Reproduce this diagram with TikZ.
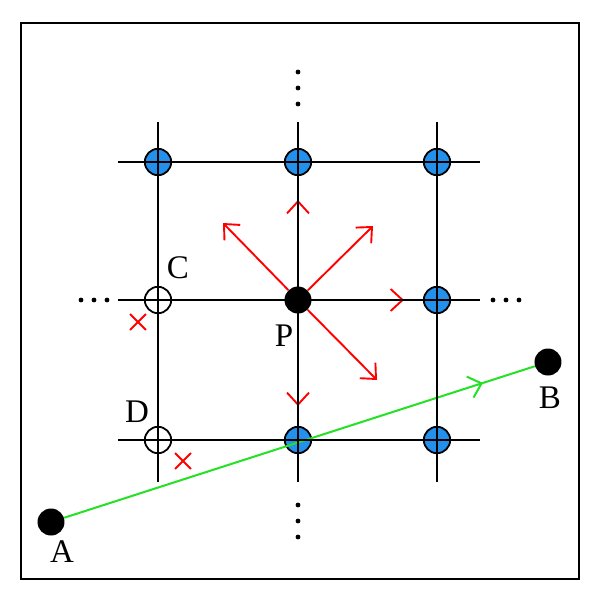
\documentclass[tikz,border=0pt]{standalone}
\usepackage{fontspec}
\setmainfont{Liberation Serif}
\usetikzlibrary{arrows.meta,shapes.misc,decorations.markings}
\definecolor{hitblue}{RGB}{35,145,235}
\definecolor{raygreen}{RGB}{35,225,35}
\tikzset{
  gridln/.style ={line width=1.2pt},
  gpt/.style   ={draw, circle, minimum size=13.2pt, inner sep=0pt, line width=0.9pt},
  hit/.style   ={gpt, fill=hitblue},
  miss/.style  ={gpt, fill=white},
  endpt/.style ={circle, fill=black, minimum size=13.5pt, inner sep=0pt},
  dir/.style   ={red, line width=0.95pt, -{Straight Barb[length=6pt,width=11pt]}},
  xmark/.style ={cross out, draw=red, line width=0.95pt, minimum size=7pt, inner sep=0pt},
  ray/.style   ={raygreen, line width=1pt, postaction={decorate},
                 decoration={markings, mark=at position 0.89 with
                 {\arrow{Straight Barb[length=6pt,width=11pt]}}}},
  lbl/.style   ={font=\fontsize{16.5}{19}\selectfont, inner sep=0pt},
}

\begin{document}
\begin{tikzpicture}[x=0.5pt, y=-0.5pt]
\useasboundingbox (0,0) rectangle (600,602);
\draw[line width=1.1pt] (21,23) rectangle (579,579);

% ---- grid points -----------------------------------------------------
\node[hit]  (n11) at (158,162) {};
\node[hit]  (n12) at (298,162) {};
\node[hit]  (n13) at (437,162) {};
\node[miss] (C)   at (158,300) {};
\node[endpt](P)   at (298,300) {};
\node[hit]  (n23) at (437,300) {};
\node[miss] (D)   at (158,440) {};
\node[hit]  (n32) at (298,440) {};
\node[hit]  (n33) at (437,440) {};

\node[lbl] (labC) at (178,268) {C};
\node[lbl] (labD) at (137,412) {D};
\node[lbl] (labP) at (284,336) {P};

% ---- ray A to B ------------------------------------------------------
\node[endpt] (A) at (51,522) {};
\node[endpt] (B) at (548,362) {};
\node[lbl] (labA) at (62,552) {A};
\node[lbl] (labB) at (550,398) {B};
\draw[ray] (A) -- (B);

% ---- search directions from P ----------------------------------------
\coordinate (dN)  at (298,200);
\coordinate (dS)  at (298,406);
\coordinate (dE)  at (404,300);
\coordinate (dNW) at (223,223);
\coordinate (dNE) at (373,226);
\coordinate (dSE) at (377,380);
\draw[dir] (P) -- (dN);
\draw[dir] (P) -- (dS);
\draw[dir] (P) -- (dE);
\draw[dir] (P) -- (dNW);
\draw[dir] (P) -- (dNE);
\draw[dir] (P) -- (dSE);

% ---- grid lines ------------------------------------------------------
\draw[gridln] (118,162) -- (480,162);
\draw[gridln] (118,300) -- (480,300);
\draw[gridln] (118,440) -- (480,440);
\draw[gridln] (158,122) -- (158,482);
\draw[gridln] (298,122) -- (298,482);
\draw[gridln] (437,122) -- (437,482);

\foreach \t in {72,88,104,505,521,537} \fill (298,\t) circle (1.2pt);
\foreach \t in {81,94,107,493,506,519} \fill (\t,300) circle (1.2pt);

% ---- rejected neighbours ---------------------------------------------
\node[xmark] (xC) at (138,322) {};
\node[xmark] (xD) at (183,461) {};

\end{tikzpicture}
\end{document}
